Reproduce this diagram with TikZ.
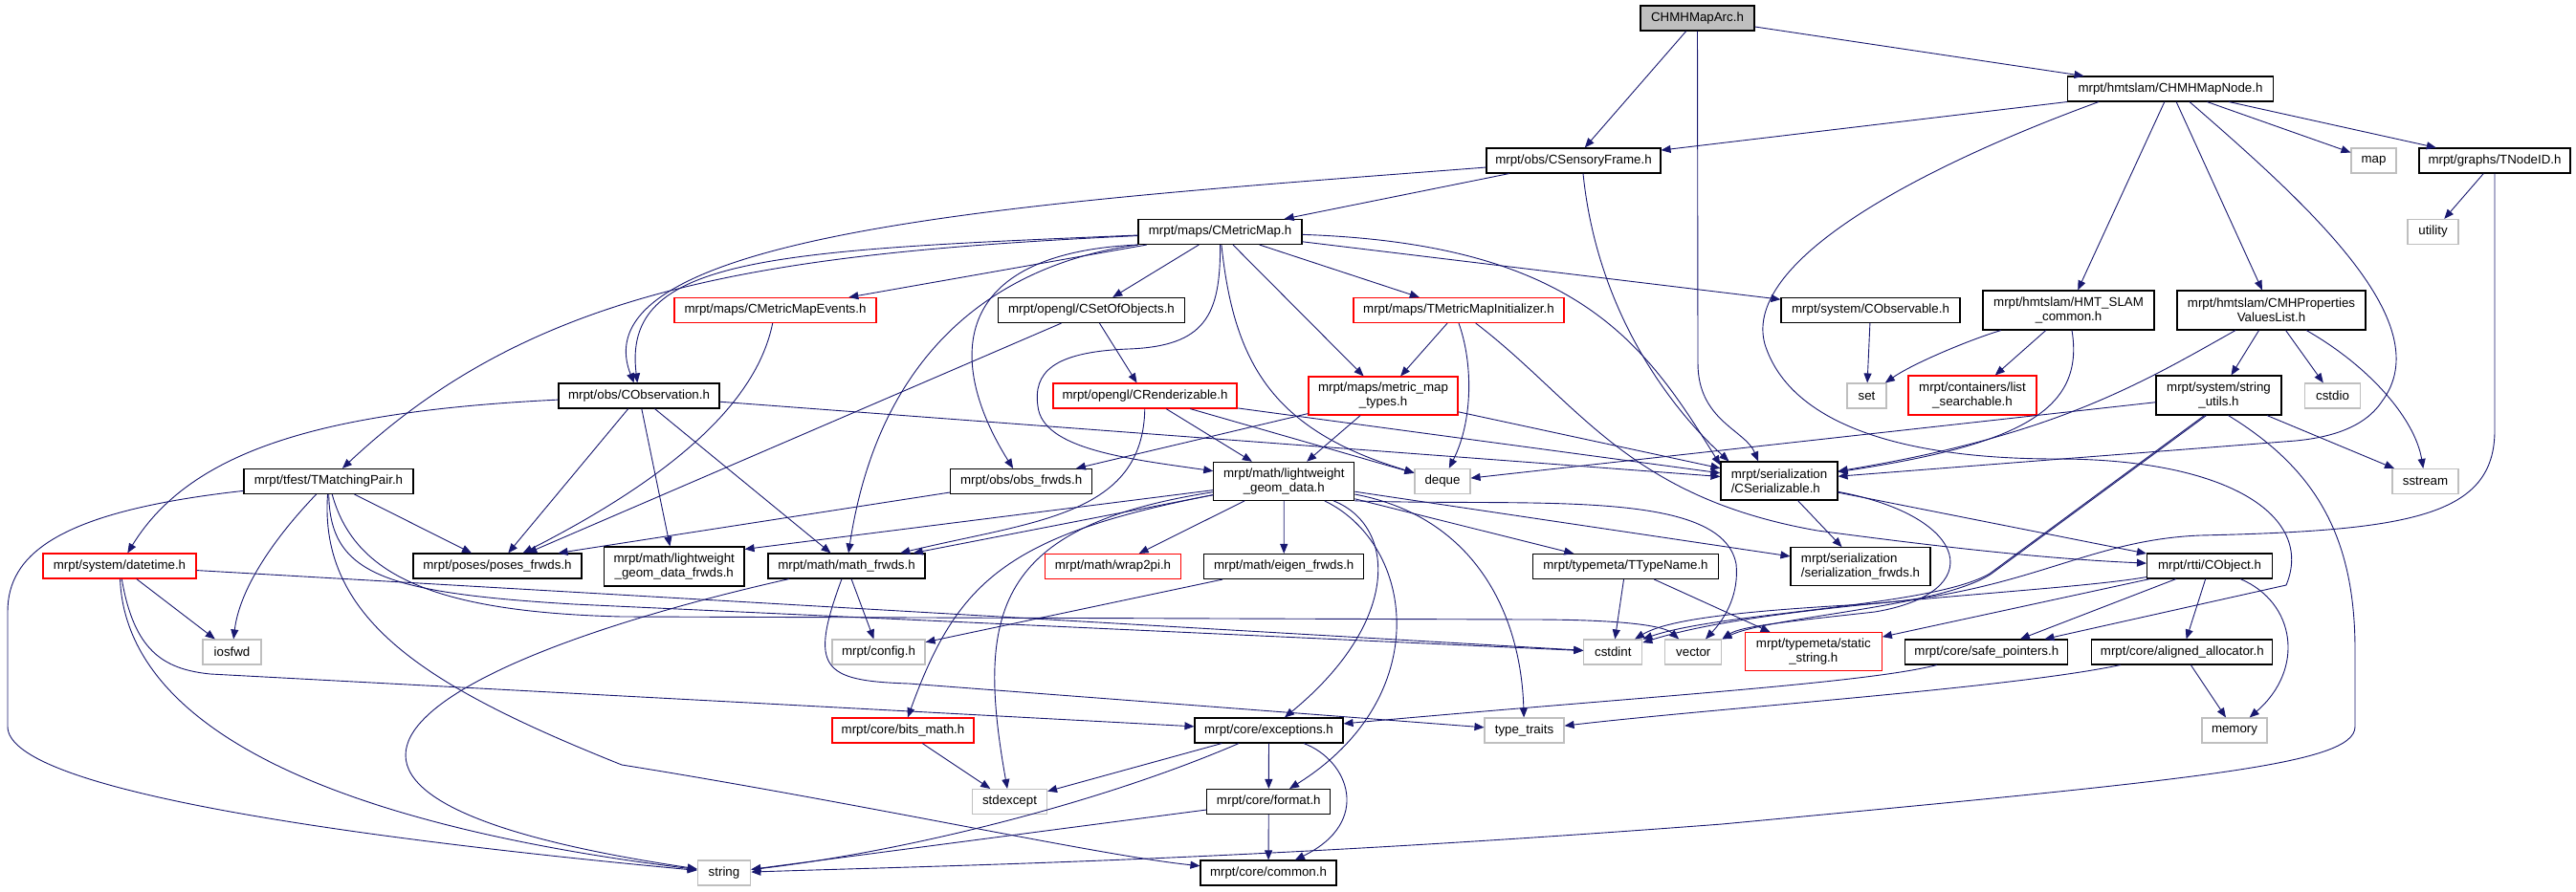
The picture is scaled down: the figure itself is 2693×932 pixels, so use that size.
\documentclass[tikz,border=0pt]{standalone}
\usepackage{fontspec}
\setmainfont{Liberation Sans}
\usetikzlibrary{arrows.meta}
\definecolor{edgeblue}{HTML}{191970}
\definecolor{sysgray}{HTML}{BFBFBF}
\definecolor{truncred}{HTML}{FF0000}
\tikzset{
  docnode/.style={draw=black, line width=1.1pt, inner sep=0pt, minimum height=26pt, align=center},
  sysnode/.style={docnode, draw=sysgray},
  truncnode/.style={docnode, draw=truncred},
  rootnode/.style={docnode, fill=sysgray},
  dep/.style={draw=edgeblue, line width=0.9pt, -{Triangle[length=10pt,width=8pt]}}
}
\begin{document}
\begin{tikzpicture}[x=1pt,y=-1pt,font=\fontsize{13.3}{15}\selectfont]
  \fill[white] (0,0) rectangle (2693,932);
  \useasboundingbox (0,0) rectangle (2693,932);
  \node[rootnode, minimum width=119pt] (root) at (1774.5,19) {CHMHMapArc.h};
  \node[docnode, minimum width=215pt] (hmapnode) at (2269,93) {mrpt/hmtslam/CHMHMapNode.h};
  \node[docnode, minimum width=182pt] (sframe) at (1645,168) {mrpt/obs/CSensoryFrame.h};
  \node[sysnode, minimum width=47pt] (mapn) at (2481.5,168) {map};
  \node[docnode, minimum width=158pt] (tnodeid) at (2608,168) {mrpt/graphs/TNodeID.h};
  \node[docnode, minimum width=171pt] (cmetricmap) at (1275.5,242.5) {mrpt/maps/CMetricMap.h};
  \node[sysnode, minimum width=53pt] (utility) at (2543.5,242.5) {utility};
  \node[truncnode, minimum width=211pt] (mapevents) at (810.5,324.5) {mrpt/maps/CMetricMapEvents.h};
  \node[docnode, minimum width=195pt] (csetobj) at (1141,324.5) {mrpt/opengl/CSetOfObjects.h};
  \node[truncnode, minimum width=220pt] (mapinit) at (1525,324.5) {mrpt/maps/TMetricMapInitializer.h};
  \node[docnode, minimum width=187pt] (cobservable) at (1955.5,324.5) {mrpt/system/CObservable.h};
  \node[docnode, minimum width=179pt, minimum height=41pt] (hmtcommon) at (2162.5,324.5) {mrpt/hmtslam/HMT\_SLAM\\\_common.h};
  \node[docnode, minimum width=197pt, minimum height=41pt] (propslist) at (2374.5,324.5) {mrpt/hmtslam/CMHProperties\\ValuesList.h};
  \node[docnode, minimum width=168pt] (cobservation) at (668,414) {mrpt/obs/CObservation.h};
  \node[truncnode, minimum width=192pt] (renderiz) at (1197,414) {mrpt/opengl/CRenderizable.h};
  \node[truncnode, minimum width=156pt, minimum height=40pt] (maptypes) at (1446,414) {mrpt/maps/metric\_map\\\_types.h};
  \node[sysnode, minimum width=41pt] (setn) at (1951.5,414) {set};
  \node[truncnode, minimum width=134pt, minimum height=41pt] (listsearch) at (2062,413.5) {mrpt/containers/list\\\_searchable.h};
  \node[docnode, minimum width=131pt, minimum height=41pt] (strutils) at (2319.5,413.5) {mrpt/system/string\\\_utils.h};
  \node[sysnode, minimum width=58pt] (cstdio) at (2438.5,414) {cstdio};
  \node[docnode, minimum width=177pt] (matchpair) at (343.5,503.5) {mrpt/tfest/TMatchingPair.h};
  \node[docnode, minimum width=148pt] (obsfrwds) at (1067.6,503.5) {mrpt/obs/obs\_frwds.h};
  \node[docnode, minimum width=147pt, minimum height=40pt] (lwgeom) at (1342.3,503.3) {mrpt/math/lightweight\\\_geom\_data.h};
  \node[sysnode, minimum width=58pt] (deque) at (1508,503.3) {deque};
  \node[docnode, minimum width=122pt, minimum height=40pt, align=left] (serializable) at (1860,503) {mrpt/serialization\\/CSerializable.h};
  \node[sysnode, minimum width=69pt] (sstream) at (2535.5,503.5) {sstream};
  \node[truncnode, minimum width=160pt] (datetime) at (125,592) {mrpt/system/datetime.h};
  \node[docnode, minimum width=176pt] (posesfrwds) at (520,592) {mrpt/poses/poses\_frwds.h};
  \node[docnode, minimum width=146.5pt, minimum height=41pt] (lwfrwds) at (704.75,592.5) {mrpt/math/lightweight\\\_geom\_data\_frwds.h};
  \node[docnode, minimum width=164pt] (mathfrwds) at (885,592) {mrpt/math/math\_frwds.h};
  \node[truncnode, minimum width=141.6pt] (wrap2pi) at (1163.5,592.5) {mrpt/math/wrap2pi.h};
  \node[docnode, minimum width=167pt] (eigenfrwds) at (1342.2,592.5) {mrpt/math/eigen\_frwds.h};
  \node[docnode, minimum width=194pt] (ttypename) at (1699.5,592.5) {mrpt/typemeta/TTypeName.h};
  \node[docnode, minimum width=146pt, minimum height=40pt, align=left] (serfrwds) at (1945,592.7) {mrpt/serialization\\/serialization\_frwds.h};
  \node[docnode, minimum width=131pt] (cobject) at (2310,592) {mrpt/rtti/CObject.h};
  \node[sysnode, minimum width=61pt] (iosfwd) at (242.5,682) {iosfwd};
  \node[sysnode, minimum width=97pt] (configh) at (918.5,682) {mrpt/config.h};
  \node[sysnode, minimum width=61pt] (cstdint) at (1686.3,682) {cstdint};
  \node[sysnode, minimum width=59pt] (vector) at (1770.3,682) {vector};
  \node[truncnode, minimum width=143pt, minimum height=40pt] (staticstr) at (1895.8,681.7) {mrpt/typemeta/static\\\_string.h};
  \node[docnode, minimum width=170pt] (safeptr) at (2076.8,682) {mrpt/core/safe\_pointers.h};
  \node[docnode, minimum width=189pt] (alignalloc) at (2281.3,682) {mrpt/core/aligned\_allocator.h};
  \node[truncnode, minimum width=148pt] (bitsmath) at (944,764) {mrpt/core/bits\_math.h};
  \node[docnode, minimum width=155pt] (exceptions) at (1326.5,764) {mrpt/core/exceptions.h};
  \node[sysnode, minimum width=83pt] (typetraits) at (1593.5,764) {type\_traits};
  \node[sysnode, minimum width=68pt] (memory) at (2336,764) {memory};
  \node[sysnode, minimum width=78pt] (stdexcept) at (1055.5,838.5) {stdexcept};
  \node[docnode, minimum width=129pt] (format) at (1326.3,838.5) {mrpt/core/format.h};
  \node[sysnode, minimum width=55.5pt] (string) at (757,913) {string};
  \node[docnode, minimum width=142pt] (common) at (1326,913) {mrpt/core/common.h};

  \draw[dep] (root) -- (hmapnode);
  \draw[dep] (root) -- (sframe);
  \draw[dep] (root.south) -- (1775,380) .. controls (1775,440) and (1825,450) .. ([xshift=-22pt]serializable.north);

  \draw[dep] (hmapnode.south west) -- (sframe);
  \draw[dep] ([xshift=-75pt]hmapnode.south) .. controls (2020,170) and (1820,270) .. (1845,360) .. controls (1870,440) and (1980,480) .. (2150,480) .. controls (2330,480) and (2420,540) .. (2390,612) -- (safeptr);
  \draw[dep] (hmapnode) -- (hmtcommon);
  \draw[dep] (hmapnode) -- (propslist);
  \draw[dep] ([xshift=20pt]hmapnode.south) .. controls (2420,220) and (2550,340) .. (2490,420) .. controls (2470,450) and (2430,458) .. (2400,461) -- (serializable);
  \draw[dep] (hmapnode) -- (mapn);
  \draw[dep] (hmapnode) -- (tnodeid);

  \draw[dep] (tnodeid) -- (utility);
  \draw[dep] (tnodeid.south) -- (2608,450) .. controls (2608,540) and (2520,555) .. (2300,560) .. controls (2180,565) and (2120,620) .. (1950,632) .. controls (1800,640) and (1740,650) .. (cstdint);

  \draw[dep] (sframe) -- (cmetricmap);
  \draw[dep] (sframe) .. controls (1100,210) and (600,240) .. (cobservation);
  \draw[dep] ([xshift=10pt]sframe.south) .. controls (1670,330) and (1750,430) .. ([xshift=9pt]serializable.north west);

  \draw[dep] (cmetricmap) .. controls (800,262) and (650,270) .. (cobservation);
  \draw[dep] (cmetricmap) .. controls (800,265) and (560,300) .. (matchpair);
  \draw[dep] (cmetricmap) -- (mapevents);
  \draw[dep] (cmetricmap.south west) .. controls (1050,275) and (920,360) .. (mathfrwds);
  \draw[dep] (cmetricmap.south west) .. controls (990,265) and (990,380) .. (obsfrwds);
  \draw[dep] (cmetricmap) -- (csetobj);
  \draw[dep] (cmetricmap) .. controls (1276,330) and (1260,362) .. (1180,365) .. controls (1100,368) and (1080,390) .. (1085,425) .. controls (1090,470) and (1180,480) .. (lwgeom);
  \draw[dep] (cmetricmap) .. controls (1290,380) and (1330,450) .. (deque);
  \draw[dep] (cmetricmap) -- (maptypes);
  \draw[dep] (cmetricmap) -- (mapinit);
  \draw[dep] (cmetricmap) .. controls (1650,255) and (1720,360) .. ([yshift=-4pt]serializable.north west);
  \draw[dep] (cmetricmap) -- (cobservable);

  \draw[dep] (mapevents) .. controls (795,400) and (740,480) .. (posesfrwds);
  \draw[dep] (csetobj) -- (posesfrwds);
  \draw[dep] (csetobj) -- (renderiz);

  \draw[dep] (renderiz) -- (lwgeom);
  \draw[dep] (renderiz) .. controls (1195,540) and (1080,545) .. (mathfrwds);
  \draw[dep] (renderiz) -- (deque);
  \draw[dep] (renderiz) -- (serializable);

  \draw[dep] (maptypes) -- (lwgeom);
  \draw[dep] (maptypes) -- (obsfrwds);
  \draw[dep] (maptypes) -- (serializable);

  \draw[dep] (mapinit) -- (maptypes);
  \draw[dep] (mapinit.south) .. controls (1540,380) and (1540,440) .. (deque);
  \draw[dep] (mapinit) .. controls (1650,420) and (1700,520) .. (1900,555) .. controls (2050,575) and (2150,585) .. (cobject);

  \draw[dep] (cobservation) .. controls (340,430) and (200,470) .. (datetime);
  \draw[dep] (cobservation) -- (posesfrwds);
  \draw[dep] (cobservation) -- (lwfrwds);
  \draw[dep] (cobservation) -- (mathfrwds);
  \draw[dep] (cobservation) -- (serializable);

  \draw[dep] (matchpair) .. controls (60,535) and (8,580) .. (8,640) -- (8,760) .. controls (8,820) and (300,870) .. (string);
  \draw[dep] (matchpair) .. controls (280,570) and (250,620) .. (iosfwd);
  \draw[dep] (matchpair) .. controls (333,650) and (450,720) .. (650,800) .. controls (900,840) and (1150,895) .. (common);
  \draw[dep] (matchpair) .. controls (345,600) and (400,620) .. (600,632) -- (cstdint);
  \draw[dep] (matchpair) .. controls (370,600) and (450,640) .. (650,645) -- (1600,648) .. controls (1700,648) and (1740,655) .. (vector);
  \draw[dep] (matchpair) -- (posesfrwds);

  \draw[dep] (datetime) -- (cstdint);
  \draw[dep] (datetime) -- (iosfwd);
  \draw[dep] (datetime) .. controls (140,680) and (170,700) .. (220,705) -- (exceptions);
  \draw[dep] (datetime) .. controls (130,720) and (250,850) .. (string);

  \draw[dep] (mathfrwds) .. controls (450,690) and (200,830) .. (string);
  \draw[dep] (mathfrwds) .. controls (845,700) and (860,712) .. (950,715) -- (typetraits);
  \draw[dep] (mathfrwds) -- (configh);

  \draw[dep] (obsfrwds) -- ([xshift=-25pt]posesfrwds.north east);

  \draw[dep] (lwgeom) -- ([yshift=-3pt]lwfrwds.north east);
  \draw[dep] (lwgeom) -- (mathfrwds);
  \draw[dep] (lwgeom) .. controls (1050,560) and (1000,610) .. (bitsmath);
  \draw[dep] (lwgeom) .. controls (1040,550) and (1020,640) .. (stdexcept);
  \draw[dep] (lwgeom) -- (wrap2pi);
  \draw[dep] (lwgeom) -- (eigenfrwds);
  \draw[dep] (lwgeom) .. controls (1460,550) and (1465,650) .. (exceptions);
  \draw[dep] (lwgeom) .. controls (1480,570) and (1500,730) .. (format);
  \draw[dep] (lwgeom) .. controls (1540,540) and (1590,640) .. (typetraits);
  \draw[dep] (lwgeom) -- (ttypename);
  \draw[dep] (lwgeom) -- (serfrwds);
  \draw[dep] (lwgeom.south east) .. controls (1600,530) and (1800,510) .. (1815,590) .. controls (1818,620) and (1805,645) .. (vector);

  \draw[dep] (ttypename) -- (cstdint);
  \draw[dep] (ttypename) -- (staticstr);
  \draw[dep] (eigenfrwds) -- (configh);
  \draw[dep] (bitsmath) -- (stdexcept);

  \draw[dep] (exceptions) -- (stdexcept);
  \draw[dep] (exceptions) -- (format);
  \draw[dep] (exceptions) .. controls (1410,795) and (1435,860) .. (common);
  \draw[dep] (exceptions) .. controls (1150,840) and (950,890) .. (string);
  \draw[dep] (format) -- (string);
  \draw[dep] (format) -- (common);

  \draw[dep] (safeptr) .. controls (1950,715) and (1700,730) .. (exceptions);
  \draw[dep] (alignalloc) .. controls (2100,720) and (1800,740) .. (typetraits);
  \draw[dep] (alignalloc) -- (memory);

  \draw[dep] (cobject) -- (safeptr);
  \draw[dep] (cobject) -- (alignalloc);
  \draw[dep] (cobject) .. controls (2400,630) and (2410,700) .. (memory);
  \draw[dep] (cobject) -- (staticstr);
  \draw[dep] (cobject) .. controls (2150,620) and (1850,630) .. (cstdint);

  \draw[dep] (serializable) -- (serfrwds);
  \draw[dep] (serializable) -- (cobject);
  \draw[dep] (serializable) .. controls (2060,540) and (2080,620) .. (1960,640) .. controls (1870,650) and (1820,655) .. (vector.north east);

  \draw[dep] (hmtcommon) .. controls (2060,355) and (2000,380) .. (setn);
  \draw[dep] (hmtcommon) -- (listsearch);
  \draw[dep] (hmtcommon) .. controls (2180,430) and (2110,465) .. (serializable);

  \draw[dep] (propslist) .. controls (2240,400) and (2150,455) .. (serializable);
  \draw[dep] (propslist) -- (strutils);
  \draw[dep] (propslist) -- (cstdio);
  \draw[dep] (propslist) .. controls (2480,385) and (2525,440) .. (sstream);

  \draw[dep] (cobservable) -- (setn);

  \draw[dep] (strutils) -- (deque);
  \draw[dep] ([xshift=-15pt]strutils.south) -- (2080,600) .. controls (2020,635) and (1800,640) .. (cstdint.north east);
  \draw[dep] ([xshift=-13pt]strutils.south) -- (2082,600) .. controls (2030,635) and (1850,645) .. (vector.north east);
  \draw[dep] (strutils) -- (sstream);
  \draw[dep] ([xshift=10pt]strutils.south) .. controls (2420,490) and (2462,560) .. (2462,680) -- (2462,760) .. controls (2462,800) and (2300,815) .. (1800,862) .. controls (1300,900) and (1000,905) .. (string);
\end{tikzpicture}
\end{document}
